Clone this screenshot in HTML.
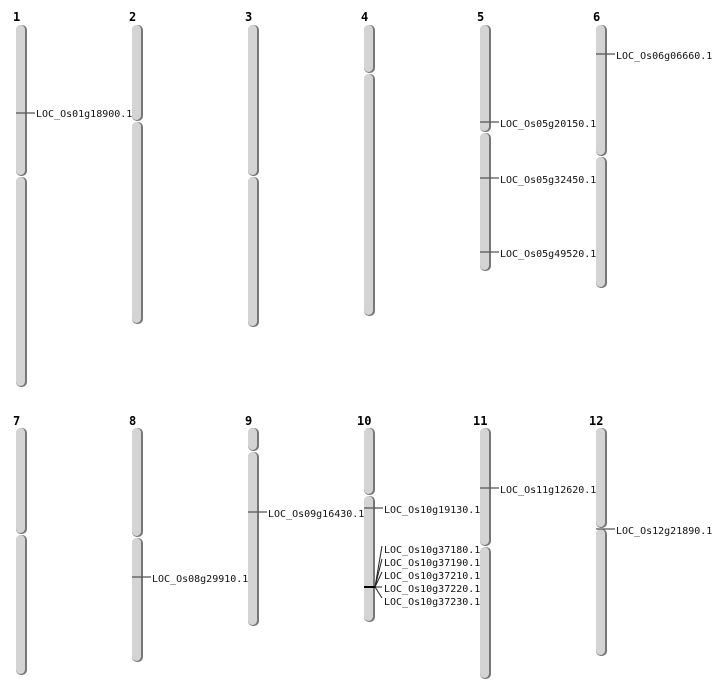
<!DOCTYPE html>
<html><head><meta charset="utf-8"><style>
html,body{margin:0;padding:0;background:#fff;}
svg{display:block}
.n{font-family:"DejaVu Sans Mono","Liberation Mono",monospace;font-weight:bold;font-size:12px;fill:#000}
.t{font-family:"DejaVu Sans Mono","Liberation Mono",monospace;font-size:10px;fill:#111}
.s{fill:#777}
.c{fill:#d4d4d4}
.m{stroke:#555;stroke-width:1.2}
</style></head><body>
<svg width="712" height="700" viewBox="0 0 712 700" xmlns="http://www.w3.org/2000/svg">
<g>
<text class="n" x="13" y="21">1</text><text class="n" x="129" y="21">2</text><text class="n" x="245" y="21">3</text><text class="n" x="361" y="21">4</text><text class="n" x="477" y="21">5</text><text class="n" x="593" y="21">6</text>
<text class="n" x="13" y="425">7</text><text class="n" x="129" y="425">8</text><text class="n" x="245" y="425">9</text><text class="n" x="357" y="425">10</text><text class="n" x="473" y="425">11</text><text class="n" x="589" y="425">12</text>
</g>
<!-- chr1 -->
<rect class="s" x="16" y="25" width="11" height="151" rx="5"/><rect class="c" x="16" y="25" width="9" height="150" rx="4.5"/>
<rect class="s" x="16" y="177" width="11" height="210" rx="5"/><rect class="c" x="16" y="177" width="9" height="209" rx="4.5"/>
<!-- chr2 -->
<rect class="s" x="132" y="25" width="11" height="96" rx="5"/><rect class="c" x="132" y="25" width="9" height="95" rx="4.5"/>
<rect class="s" x="132" y="122" width="11" height="202" rx="5"/><rect class="c" x="132" y="122" width="9" height="201" rx="4.5"/>
<!-- chr3 -->
<rect class="s" x="248" y="25" width="11" height="151" rx="5"/><rect class="c" x="248" y="25" width="9" height="150" rx="4.5"/>
<rect class="s" x="248" y="177" width="11" height="150" rx="5"/><rect class="c" x="248" y="177" width="9" height="149" rx="4.5"/>
<!-- chr4 -->
<rect class="s" x="364" y="25" width="11" height="48" rx="5"/><rect class="c" x="364" y="25" width="9" height="47" rx="4.5"/>
<rect class="s" x="364" y="74" width="11" height="242" rx="5"/><rect class="c" x="364" y="74" width="9" height="241" rx="4.5"/>
<!-- chr5 -->
<rect class="s" x="480" y="25" width="11" height="107" rx="5"/><rect class="c" x="480" y="25" width="9" height="106" rx="4.5"/>
<rect class="s" x="480" y="133" width="11" height="138" rx="5"/><rect class="c" x="480" y="133" width="9" height="137" rx="4.5"/>
<!-- chr6 -->
<rect class="s" x="596" y="25" width="11" height="131" rx="5"/><rect class="c" x="596" y="25" width="9" height="130" rx="4.5"/>
<rect class="s" x="596" y="157" width="11" height="131" rx="5"/><rect class="c" x="596" y="157" width="9" height="130" rx="4.5"/>
<!-- chr7 -->
<rect class="s" x="16" y="428" width="11" height="106" rx="5"/><rect class="c" x="16" y="428" width="9" height="105" rx="4.5"/>
<rect class="s" x="16" y="535" width="11" height="140" rx="5"/><rect class="c" x="16" y="535" width="9" height="139" rx="4.5"/>
<!-- chr8 -->
<rect class="s" x="132" y="428" width="11" height="109" rx="5"/><rect class="c" x="132" y="428" width="9" height="108" rx="4.5"/>
<rect class="s" x="132" y="538" width="11" height="124" rx="5"/><rect class="c" x="132" y="538" width="9" height="123" rx="4.5"/>
<!-- chr9 -->
<rect class="s" x="248" y="428" width="11" height="23" rx="5"/><rect class="c" x="248" y="428" width="9" height="22" rx="4.5"/>
<rect class="s" x="248" y="452" width="11" height="174" rx="5"/><rect class="c" x="248" y="452" width="9" height="173" rx="4.5"/>
<!-- chr10 -->
<rect class="s" x="364" y="428" width="11" height="67" rx="5"/><rect class="c" x="364" y="428" width="9" height="66" rx="4.5"/>
<rect class="s" x="364" y="496" width="11" height="126" rx="5"/><rect class="c" x="364" y="496" width="9" height="125" rx="4.5"/>
<!-- chr11 -->
<rect class="s" x="480" y="428" width="11" height="118" rx="5"/><rect class="c" x="480" y="428" width="9" height="117" rx="4.5"/>
<rect class="s" x="480" y="547" width="11" height="132" rx="5"/><rect class="c" x="480" y="547" width="9" height="131" rx="4.5"/>
<!-- chr12 -->
<rect class="s" x="596" y="428" width="11" height="100" rx="5"/><rect class="c" x="596" y="428" width="9" height="99" rx="4.5"/>
<rect class="s" x="596" y="529" width="11" height="127" rx="5"/><rect class="c" x="596" y="529" width="9" height="126" rx="4.5"/>

<!-- markers -->
<line class="m" x1="16" y1="113" x2="35" y2="113"/><text class="t" x="36" y="117">LOC_Os01g18900.1</text>
<line class="m" x1="480" y1="122" x2="499" y2="122"/><text class="t" x="500" y="127">LOC_Os05g20150.1</text>
<line class="m" x1="480" y1="178" x2="499" y2="178"/><text class="t" x="500" y="183">LOC_Os05g32450.1</text>
<line class="m" x1="480" y1="252" x2="499" y2="252"/><text class="t" x="500" y="257">LOC_Os05g49520.1</text>
<line class="m" x1="596" y1="54" x2="615" y2="54"/><text class="t" x="616" y="59">LOC_Os06g06660.1</text>
<line class="m" x1="132" y1="577" x2="151" y2="577"/><text class="t" x="152" y="582">LOC_Os08g29910.1</text>
<line class="m" x1="248" y1="512" x2="267" y2="512"/><text class="t" x="268" y="517">LOC_Os09g16430.1</text>
<line class="m" x1="364" y1="508" x2="383" y2="508"/><text class="t" x="384" y="513">LOC_Os10g19130.1</text>
<line class="m" x1="480" y1="488" x2="499" y2="488"/><text class="t" x="500" y="493">LOC_Os11g12620.1</text>
<line class="m" x1="596" y1="529" x2="615" y2="529"/><text class="t" x="616" y="534">LOC_Os12g21890.1</text>
<line x1="364" y1="587" x2="375" y2="587" stroke="#000" stroke-width="2"/>
<g stroke="#222" stroke-width="1">
<line x1="375" y1="587" x2="382" y2="546"/>
<line x1="375" y1="587" x2="382" y2="559"/>
<line x1="375" y1="587" x2="382" y2="572"/>
<line x1="375" y1="587" x2="382" y2="587"/>
<line x1="375" y1="587" x2="382" y2="598"/>
</g>
<text class="t" x="384" y="553">LOC_Os10g37180.1</text>
<text class="t" x="384" y="566">LOC_Os10g37190.1</text>
<text class="t" x="384" y="579">LOC_Os10g37210.1</text>
<text class="t" x="384" y="592">LOC_Os10g37220.1</text>
<text class="t" x="384" y="605">LOC_Os10g37230.1</text>
</svg>
</body></html>
